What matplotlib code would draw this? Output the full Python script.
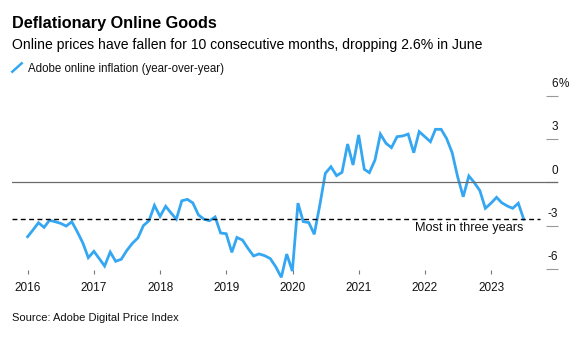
import numpy as np
import pandas as pd
import matplotlib
matplotlib.use("Agg")
import matplotlib.pyplot as plt
import matplotlib.dates as mdates
from matplotlib.lines import Line2D

plt.rcParams['font.family'] = ['Liberation Sans', 'DejaVu Sans']

# Adobe online inflation, YoY %, monthly Dec 2015 .. Jun 2023 (month-end)
dates = pd.date_range('2016-01-01', periods=91, freq='MS') - pd.Timedelta(days=1)
inflation = [
    -3.77, -3.28, -2.80, -3.12, -2.63, -2.73, -2.84, -3.03, -2.73, -3.42, -4.20, -5.22,
    -4.78, -5.31, -5.80, -4.83, -5.47, -5.33, -4.73, -4.23, -3.85, -3.00, -2.66, -1.60,
    -2.36, -1.66, -2.10, -2.55, -1.28, -1.18, -1.43, -2.26, -2.56, -2.66, -2.40, -3.51,
    -3.56, -4.85, -3.82, -4.00, -4.57, -5.10, -4.96, -5.08, -5.28, -5.84, -6.58, -4.97,
    -6.15, -1.44, -2.72, -2.79, -3.60, -1.55, 0.62, 1.08, 0.46, 0.69, 2.65, 1.20,
    3.28, 0.90, 0.67, 1.54, 3.34, 2.70, 2.40, 3.16, 3.21, 3.34, 2.05, 3.51,
    3.16, 2.81, 3.67, 3.67, 3.04, 2.05, 0.39, -1.00, 0.44, -0.02, -0.58, -1.80,
    -1.45, -1.04, -1.41, -1.64, -1.80, -1.45, -2.56,
]
threshold = -2.56
years = [2016, 2017, 2018, 2019, 2020, 2021, 2022, 2023]
yticks = [6, 3, 0, -3, -6]
ytick_labels = ['6', '3', '0', '-3', '-6']

blue = '#35a7f2'

fig = plt.figure(figsize=(5.84, 3.43), dpi=100)
ax = fig.add_axes([12 / 584, 69 / 343, 546 / 584, 194 / 343])

ax.plot(dates, inflation, color=blue, lw=2.0, clip_on=False, solid_joinstyle='miter')
ax.axhline(0, color='#6b6b6b', lw=0.9)
ax.axhline(threshold, xmin=0, xmax=0.967, color='black', lw=1.0, ls=(0, (3.5, 2.5)))
ax.text(dates[-1], threshold - 0.22, 'Most in three years', ha='right', va='top',
        fontsize=9.2, color='#111111')

start = pd.Timestamp('2016-01-01')
ax.set_xlim(start - pd.Timedelta(days=87), start + pd.Timedelta(days=2926))
ax.set_ylim(-6.35, 7.085)

for s in ax.spines.values():
    s.set_visible(False)

ax.set_xticks([pd.Timestamp(f'{y}-01-01') for y in years])
ax.xaxis.set_major_formatter(mdates.DateFormatter('%Y'))
ax.tick_params(axis='x', direction='in', length=3, width=0.8, color='#777777',
               pad=6, labelsize=8.5, labelcolor='#111111')

ax.set_yticks(yticks)
ax.yaxis.tick_right()
ax.tick_params(axis='y', direction='in', length=9, width=0.8, color='#999999',
               labelright=False, labelleft=False)
for v, lab in zip(yticks, ytick_labels):
    ax.annotate(lab, xy=(1.0, v), xycoords=('axes fraction', 'data'),
                xytext=(0, 8.5), textcoords='offset points', ha='right', va='center',
                fontsize=8.5, color='#111111')
    if v == 6:
        ax.annotate('%', xy=(1.0, v), xycoords=('axes fraction', 'data'),
                    xytext=(0.3, 8.5), textcoords='offset points', ha='left', va='center',
                    fontsize=8.5, color='#111111')

fig.text(12 / 584, 1 - 27.7 / 343, 'Deflationary Online Goods', fontsize=11.7,
         fontweight='bold', va='baseline', ha='left', color='black')
fig.text(12 / 584, 1 - 49 / 343,
         'Online prices have fallen for 10 consecutive months, dropping 2.6% in June',
         fontsize=10.1, va='baseline', ha='left', color='black')
fig.add_artist(Line2D([12.3 / 584, 21.7 / 584], [1 - 71.7 / 343, 1 - 63.3 / 343],
                      color=blue, lw=1.8))
fig.text(28 / 584, 1 - 71.7 / 343, 'Adobe online inflation (year-over-year)',
         fontsize=8.3, va='baseline', ha='left', color='#111111')
fig.text(12 / 584, 1 - 321 / 343, 'Source: Adobe Digital Price Index',
         fontsize=8.0, va='baseline', ha='left', color='#111111')

fig.savefig('out.png', dpi=100)
